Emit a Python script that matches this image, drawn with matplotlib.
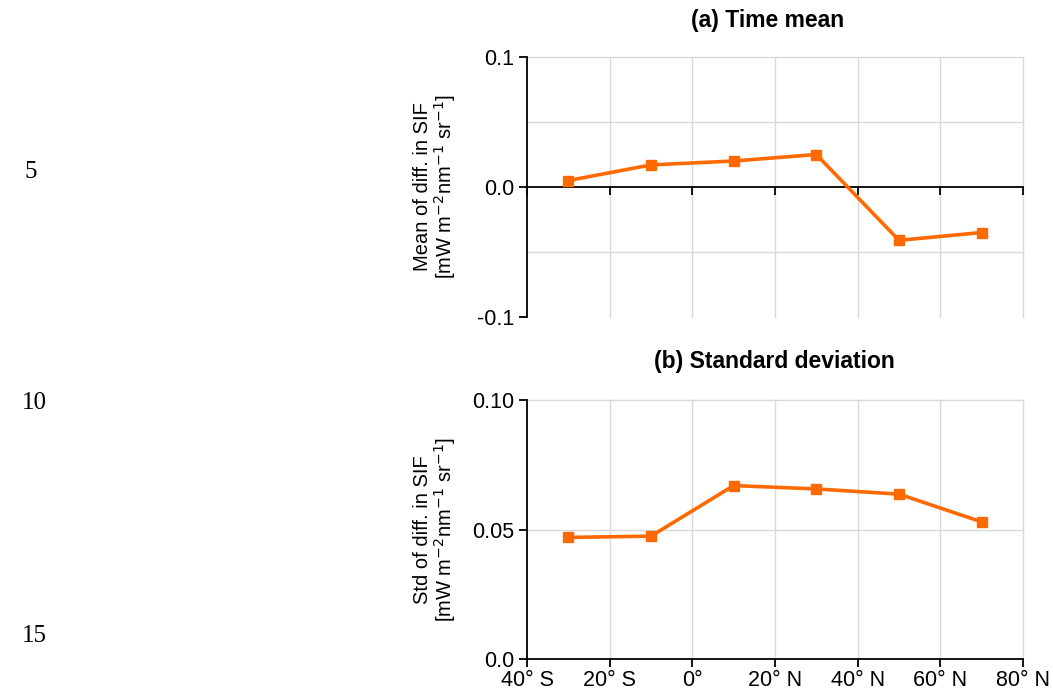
import matplotlib
matplotlib.use("Agg")
import matplotlib.pyplot as plt

# latitude band centres (deg, negative = south)
lat = [-30, -10, 10, 30, 50, 70]
mean_diff = [0.005, 0.017, 0.020, 0.025, -0.041, -0.035]
std_diff = [0.047, 0.0475, 0.067, 0.0657, 0.0637, 0.053]

xticks = [-40, -20, 0, 20, 40, 60, 80]
xticklabels = ['40° S', '20° S', '0°', '20° N', '40° N', '60° N', '80° N']
yticks_a = [-0.1, 0.0, 0.1]
yticklabels_a = ['-0.1', '0.0', '0.1']
ygrid_a = [-0.05, 0.05, 0.1]
yticks_b = [0.0, 0.05, 0.10]
yticklabels_b = ['0.0', '0.05', '0.10']
ygrid_b = [0.05, 0.10]
line_numbers = ['5', '10', '15']

plt.rcParams['font.family'] = ['Liberation Sans', 'DejaVu Sans']
orange = '#ff6a00'
gridc = '#d9d9d9'
fs = 15.5

fig = plt.figure(figsize=(10.53, 6.96), dpi=100)
ax1 = fig.add_axes([0.5005, 0.5445, 0.471, 0.3736])
ax2 = fig.add_axes([0.5005, 0.0527, 0.471, 0.3726])


def style(ax, gridy):
    ax.set_xlim(-40, 80)
    for x in xticks[1:]:
        ax.axvline(x, color=gridc, lw=1, zorder=0, clip_on=False)
    for y in gridy:
        ax.axhline(y, color=gridc, lw=1, zorder=0, clip_on=False)
    ax.spines['top'].set_visible(False)
    ax.spines['right'].set_visible(False)
    ax.spines['left'].set_linewidth(1.3)
    ax.spines['bottom'].set_linewidth(1.3)
    ax.set_xticks(xticks)
    ax.tick_params(direction='out', length=6, width=1.3, labelsize=fs, pad=2)
    ax.tick_params(axis='y', pad=3)
    ax.yaxis.set_label_coords(-0.139, 0.5)


# (a) time mean
ax1.plot(lat, mean_diff, color=orange, lw=2.6, marker='s', ms=7.5, zorder=3, clip_on=False)
ax1.set_ylim(-0.1, 0.1)
style(ax1, ygrid_a)
ax1.spines['bottom'].set_position(('data', 0))
ax1.set_yticks(yticks_a)
ax1.set_yticklabels(yticklabels_a)
ax1.tick_params(axis='x', labelbottom=False)
ax1.set_ylabel('Mean of diff. in SIF\n[mW m$^{-2}$nm$^{-1}$ sr$^{-1}$]', fontsize=14.5, linespacing=1.0)
fig.text(768 / 1053, 1 - 20 / 696, '(a) Time mean', ha='center', va='center', fontsize=16.5, fontweight='bold')

# (b) standard deviation
ax2.plot(lat, std_diff, color=orange, lw=2.6, marker='s', ms=7.5, zorder=3, clip_on=False)
ax2.set_ylim(0, 0.1)
style(ax2, ygrid_b)
ax2.set_yticks(yticks_b)
ax2.set_yticklabels(yticklabels_b)
ax2.set_xticklabels(xticklabels)
ax2.set_ylabel('Std of diff. in SIF\n[mW m$^{-2}$nm$^{-1}$ sr$^{-1}$]', fontsize=14.5, linespacing=1.0)
fig.text(774 / 1053, 1 - 362 / 696, '(b) Standard deviation', ha='center', va='center', fontsize=16.5, fontweight='bold')

# page line numbers
for txt, y in zip(line_numbers, [172, 403, 636]):
    fig.text(22 / 1053 if len(txt) > 1 else 25 / 1053, 1 - y / 696, txt,
             ha='left', va='center', fontsize=18, family='Liberation Serif')

fig.savefig('out.png', dpi=100)
